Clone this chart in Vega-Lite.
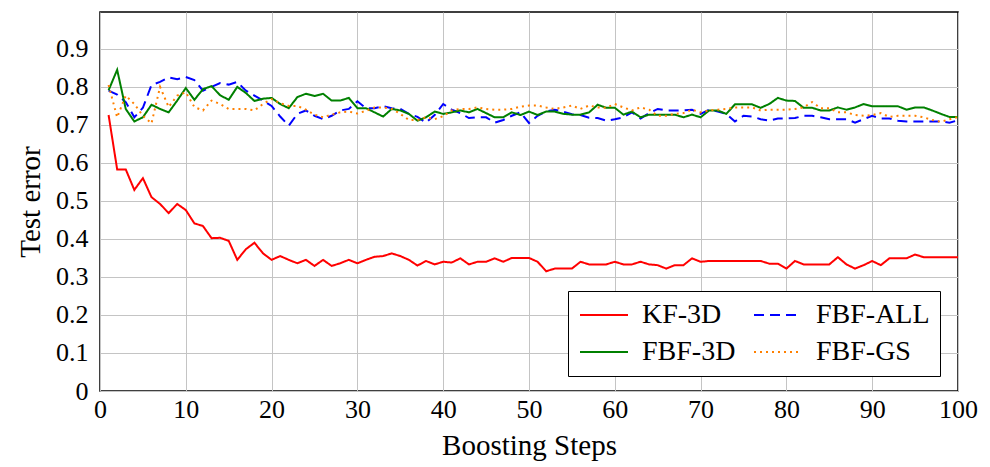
{
  "$schema": "https://vega.github.io/schema/vega-lite/v6.json",
  "autosize": {"type": "none"},
  "width": 858,
  "height": 379,
  "padding": {"left": 100, "top": 12, "right": 32, "bottom": 76},
  "background": "white",
  "config": {
    "font": "Liberation Serif",
    "style": {
      "guide-label": {"font": "Liberation Serif"},
      "guide-title": {"font": "Liberation Serif"}
    },
    "view": {"stroke": "black", "strokeWidth": 1.5},
    "axis": {
      "labelFont": "Liberation Serif",
      "titleFont": "Liberation Serif",
      "labelFontSize": 26,
      "titleFontSize": 29,
      "titleFontWeight": "normal",
      "labelColor": "black",
      "titleColor": "black",
      "gridColor": "#c4c4c4",
      "gridWidth": 1,
      "gridOpacity": 1,
      "domain": false,
      "ticks": false,
      "labelFlush": false
    },
    "legend": {
      "labelFont": "Liberation Serif",
      "labelFontSize": 28,
      "labelColor": "black"
    }
  },
  "data": {
    "values": [
      {"x":1,"KF-3D":0.726,"FBF-ALL":0.79,"FBF-3D":0.791,"FBF-GS":0.805},
      {"x":2,"KF-3D":0.583,"FBF-ALL":0.78,"FBF-3D":0.845,"FBF-GS":0.72},
      {"x":3,"KF-3D":0.583,"FBF-ALL":0.76,"FBF-3D":0.742,"FBF-GS":0.777},
      {"x":4,"KF-3D":0.529,"FBF-ALL":0.72,"FBF-3D":0.709,"FBF-GS":0.755},
      {"x":5,"KF-3D":0.56,"FBF-ALL":0.745,"FBF-3D":0.72,"FBF-GS":0.724},
      {"x":6,"KF-3D":0.51,"FBF-ALL":0.805,"FBF-3D":0.753,"FBF-GS":0.704},
      {"x":7,"KF-3D":0.492,"FBF-ALL":0.813,"FBF-3D":0.742,"FBF-GS":0.8},
      {"x":8,"KF-3D":0.468,"FBF-ALL":0.825,"FBF-3D":0.733,"FBF-GS":0.747},
      {"x":9,"KF-3D":0.492,"FBF-ALL":0.82,"FBF-3D":0.764,"FBF-GS":0.777},
      {"x":10,"KF-3D":0.476,"FBF-ALL":0.826,"FBF-3D":0.797,"FBF-GS":0.786},
      {"x":11,"KF-3D":0.441,"FBF-ALL":0.818,"FBF-3D":0.766,"FBF-GS":0.747},
      {"x":12,"KF-3D":0.434,"FBF-ALL":0.79,"FBF-3D":0.794,"FBF-GS":0.738},
      {"x":13,"KF-3D":0.402,"FBF-ALL":0.8,"FBF-3D":0.802,"FBF-GS":0.764},
      {"x":14,"KF-3D":0.403,"FBF-ALL":0.81,"FBF-3D":0.778,"FBF-GS":0.755},
      {"x":15,"KF-3D":0.395,"FBF-ALL":0.806,"FBF-3D":0.766,"FBF-GS":0.742},
      {"x":16,"KF-3D":0.345,"FBF-ALL":0.813,"FBF-3D":0.8,"FBF-GS":0.742},
      {"x":17,"KF-3D":0.373,"FBF-ALL":0.79,"FBF-3D":0.784,"FBF-GS":0.742},
      {"x":18,"KF-3D":0.39,"FBF-ALL":0.777,"FBF-3D":0.763,"FBF-GS":0.738},
      {"x":19,"KF-3D":0.362,"FBF-ALL":0.764,"FBF-3D":0.769,"FBF-GS":0.755},
      {"x":20,"KF-3D":0.345,"FBF-ALL":0.75,"FBF-3D":0.771,"FBF-GS":0.768},
      {"x":21,"KF-3D":0.355,"FBF-ALL":0.722,"FBF-3D":0.755,"FBF-GS":0.757},
      {"x":22,"KF-3D":0.345,"FBF-ALL":0.698,"FBF-3D":0.744,"FBF-GS":0.75},
      {"x":23,"KF-3D":0.336,"FBF-ALL":0.729,"FBF-3D":0.773,"FBF-GS":0.75},
      {"x":24,"KF-3D":0.345,"FBF-ALL":0.738,"FBF-3D":0.782,"FBF-GS":0.74},
      {"x":25,"KF-3D":0.329,"FBF-ALL":0.724,"FBF-3D":0.776,"FBF-GS":0.727},
      {"x":26,"KF-3D":0.345,"FBF-ALL":0.715,"FBF-3D":0.782,"FBF-GS":0.72},
      {"x":27,"KF-3D":0.329,"FBF-ALL":0.724,"FBF-3D":0.764,"FBF-GS":0.727},
      {"x":28,"KF-3D":0.336,"FBF-ALL":0.738,"FBF-3D":0.764,"FBF-GS":0.733},
      {"x":29,"KF-3D":0.345,"FBF-ALL":0.742,"FBF-3D":0.771,"FBF-GS":0.735},
      {"x":30,"KF-3D":0.336,"FBF-ALL":0.762,"FBF-3D":0.744,"FBF-GS":0.73},
      {"x":31,"KF-3D":0.345,"FBF-ALL":0.744,"FBF-3D":0.744,"FBF-GS":0.737},
      {"x":32,"KF-3D":0.353,"FBF-ALL":0.744,"FBF-3D":0.733,"FBF-GS":0.746},
      {"x":33,"KF-3D":0.355,"FBF-ALL":0.749,"FBF-3D":0.722,"FBF-GS":0.746},
      {"x":34,"KF-3D":0.362,"FBF-ALL":0.744,"FBF-3D":0.742,"FBF-GS":0.742},
      {"x":35,"KF-3D":0.355,"FBF-ALL":0.742,"FBF-3D":0.738,"FBF-GS":0.729},
      {"x":36,"KF-3D":0.345,"FBF-ALL":0.729,"FBF-3D":0.729,"FBF-GS":0.713},
      {"x":37,"KF-3D":0.33,"FBF-ALL":0.721,"FBF-3D":0.711,"FBF-GS":0.713},
      {"x":38,"KF-3D":0.342,"FBF-ALL":0.706,"FBF-3D":0.72,"FBF-GS":0.72},
      {"x":39,"KF-3D":0.333,"FBF-ALL":0.726,"FBF-3D":0.735,"FBF-GS":0.715},
      {"x":40,"KF-3D":0.34,"FBF-ALL":0.755,"FBF-3D":0.729,"FBF-GS":0.723},
      {"x":41,"KF-3D":0.338,"FBF-ALL":0.74,"FBF-3D":0.733,"FBF-GS":0.738},
      {"x":42,"KF-3D":0.349,"FBF-ALL":0.731,"FBF-3D":0.738,"FBF-GS":0.742},
      {"x":43,"KF-3D":0.333,"FBF-ALL":0.718,"FBF-3D":0.733,"FBF-GS":0.742},
      {"x":44,"KF-3D":0.34,"FBF-ALL":0.72,"FBF-3D":0.742,"FBF-GS":0.746},
      {"x":45,"KF-3D":0.34,"FBF-ALL":0.72,"FBF-3D":0.731,"FBF-GS":0.742},
      {"x":46,"KF-3D":0.349,"FBF-ALL":0.706,"FBF-3D":0.72,"FBF-GS":0.74},
      {"x":47,"KF-3D":0.34,"FBF-ALL":0.713,"FBF-3D":0.72,"FBF-GS":0.74},
      {"x":48,"KF-3D":0.35,"FBF-ALL":0.724,"FBF-3D":0.733,"FBF-GS":0.742},
      {"x":49,"KF-3D":0.35,"FBF-ALL":0.733,"FBF-3D":0.726,"FBF-GS":0.748},
      {"x":50,"KF-3D":0.35,"FBF-ALL":0.705,"FBF-3D":0.735,"FBF-GS":0.751},
      {"x":51,"KF-3D":0.34,"FBF-ALL":0.724,"FBF-3D":0.726,"FBF-GS":0.751},
      {"x":52,"KF-3D":0.315,"FBF-ALL":0.735,"FBF-3D":0.735,"FBF-GS":0.746},
      {"x":53,"KF-3D":0.322,"FBF-ALL":0.74,"FBF-3D":0.735,"FBF-GS":0.742},
      {"x":54,"KF-3D":0.322,"FBF-ALL":0.735,"FBF-3D":0.729,"FBF-GS":0.746},
      {"x":55,"KF-3D":0.322,"FBF-ALL":0.728,"FBF-3D":0.727,"FBF-GS":0.751},
      {"x":56,"KF-3D":0.34,"FBF-ALL":0.726,"FBF-3D":0.727,"FBF-GS":0.742},
      {"x":57,"KF-3D":0.333,"FBF-ALL":0.719,"FBF-3D":0.733,"FBF-GS":0.751},
      {"x":58,"KF-3D":0.333,"FBF-ALL":0.718,"FBF-3D":0.753,"FBF-GS":0.746},
      {"x":59,"KF-3D":0.333,"FBF-ALL":0.711,"FBF-3D":0.745,"FBF-GS":0.745},
      {"x":60,"KF-3D":0.34,"FBF-ALL":0.715,"FBF-3D":0.745,"FBF-GS":0.755},
      {"x":61,"KF-3D":0.333,"FBF-ALL":0.72,"FBF-3D":0.727,"FBF-GS":0.746},
      {"x":62,"KF-3D":0.333,"FBF-ALL":0.733,"FBF-3D":0.735,"FBF-GS":0.738},
      {"x":63,"KF-3D":0.34,"FBF-ALL":0.717,"FBF-3D":0.72,"FBF-GS":0.746},
      {"x":64,"KF-3D":0.333,"FBF-ALL":0.731,"FBF-3D":0.727,"FBF-GS":0.74},
      {"x":65,"KF-3D":0.331,"FBF-ALL":0.742,"FBF-3D":0.727,"FBF-GS":0.724},
      {"x":66,"KF-3D":0.322,"FBF-ALL":0.738,"FBF-3D":0.727,"FBF-GS":0.724},
      {"x":67,"KF-3D":0.331,"FBF-ALL":0.738,"FBF-3D":0.727,"FBF-GS":0.729},
      {"x":68,"KF-3D":0.331,"FBF-ALL":0.738,"FBF-3D":0.72,"FBF-GS":0.731},
      {"x":69,"KF-3D":0.349,"FBF-ALL":0.74,"FBF-3D":0.727,"FBF-GS":0.74},
      {"x":70,"KF-3D":0.34,"FBF-ALL":0.729,"FBF-3D":0.72,"FBF-GS":0.733},
      {"x":71,"KF-3D":0.342,"FBF-ALL":0.74,"FBF-3D":0.738,"FBF-GS":0.738},
      {"x":72,"KF-3D":0.342,"FBF-ALL":0.735,"FBF-3D":0.738,"FBF-GS":0.74},
      {"x":73,"KF-3D":0.342,"FBF-ALL":0.729,"FBF-3D":0.729,"FBF-GS":0.742},
      {"x":74,"KF-3D":0.342,"FBF-ALL":0.709,"FBF-3D":0.754,"FBF-GS":0.746},
      {"x":75,"KF-3D":0.342,"FBF-ALL":0.724,"FBF-3D":0.754,"FBF-GS":0.746},
      {"x":76,"KF-3D":0.342,"FBF-ALL":0.722,"FBF-3D":0.754,"FBF-GS":0.746},
      {"x":77,"KF-3D":0.342,"FBF-ALL":0.715,"FBF-3D":0.745,"FBF-GS":0.738},
      {"x":78,"KF-3D":0.335,"FBF-ALL":0.711,"FBF-3D":0.755,"FBF-GS":0.74},
      {"x":79,"KF-3D":0.335,"FBF-ALL":0.717,"FBF-3D":0.771,"FBF-GS":0.74},
      {"x":80,"KF-3D":0.322,"FBF-ALL":0.717,"FBF-3D":0.764,"FBF-GS":0.74},
      {"x":81,"KF-3D":0.342,"FBF-ALL":0.718,"FBF-3D":0.763,"FBF-GS":0.742},
      {"x":82,"KF-3D":0.333,"FBF-ALL":0.724,"FBF-3D":0.745,"FBF-GS":0.746},
      {"x":83,"KF-3D":0.333,"FBF-ALL":0.724,"FBF-3D":0.745,"FBF-GS":0.76},
      {"x":84,"KF-3D":0.333,"FBF-ALL":0.72,"FBF-3D":0.738,"FBF-GS":0.744},
      {"x":85,"KF-3D":0.333,"FBF-ALL":0.715,"FBF-3D":0.738,"FBF-GS":0.744},
      {"x":86,"KF-3D":0.352,"FBF-ALL":0.715,"FBF-3D":0.746,"FBF-GS":0.733},
      {"x":87,"KF-3D":0.333,"FBF-ALL":0.715,"FBF-3D":0.74,"FBF-GS":0.733},
      {"x":88,"KF-3D":0.322,"FBF-ALL":0.706,"FBF-3D":0.746,"FBF-GS":0.726},
      {"x":89,"KF-3D":0.331,"FBF-ALL":0.715,"FBF-3D":0.755,"FBF-GS":0.724},
      {"x":90,"KF-3D":0.342,"FBF-ALL":0.724,"FBF-3D":0.749,"FBF-GS":0.726},
      {"x":91,"KF-3D":0.331,"FBF-ALL":0.717,"FBF-3D":0.749,"FBF-GS":0.731},
      {"x":92,"KF-3D":0.349,"FBF-ALL":0.717,"FBF-3D":0.749,"FBF-GS":0.721},
      {"x":93,"KF-3D":0.349,"FBF-ALL":0.711,"FBF-3D":0.749,"FBF-GS":0.724},
      {"x":94,"KF-3D":0.349,"FBF-ALL":0.709,"FBF-3D":0.74,"FBF-GS":0.724},
      {"x":95,"KF-3D":0.359,"FBF-ALL":0.709,"FBF-3D":0.746,"FBF-GS":0.724},
      {"x":96,"KF-3D":0.352,"FBF-ALL":0.709,"FBF-3D":0.746,"FBF-GS":0.72},
      {"x":97,"KF-3D":0.352,"FBF-ALL":0.709,"FBF-3D":0.738,"FBF-GS":0.713},
      {"x":98,"KF-3D":0.352,"FBF-ALL":0.709,"FBF-3D":0.729,"FBF-GS":0.708},
      {"x":99,"KF-3D":0.352,"FBF-ALL":0.706,"FBF-3D":0.721,"FBF-GS":0.715},
      {"x":100,"KF-3D":0.352,"FBF-ALL":0.712,"FBF-3D":0.721,"FBF-GS":0.721}
    ]
  },
  "transform": [
    {"fold": ["KF-3D", "FBF-ALL", "FBF-3D", "FBF-GS"], "as": ["series", "value"]}
  ],
  "mark": {"type": "line", "strokeWidth": 2, "clip": true},
  "encoding": {
    "x": {
      "field": "x",
      "type": "quantitative",
      "scale": {"domain": [0, 100], "nice": false},
      "axis": {"values": [0,10,20,30,40,50,60,70,80,90,100], "title": "Boosting Steps", "labelFont": "Liberation Serif", "labelFlush": false, "labelPadding": 5, "titlePadding": 9}
    },
    "y": {
      "field": "value",
      "type": "quantitative",
      "scale": {"domain": [0, 0.997], "nice": false},
      "axis": {"values": [0,0.1,0.2,0.3,0.4,0.5,0.6,0.7,0.8,0.9], "format": ".1~f", "title": "Test error", "labelFont": "Liberation Serif", "labelPadding": 12, "titlePadding": 10}
    },
    "color": {
      "field": "series",
      "type": "nominal",
      "sort": ["KF-3D", "FBF-ALL", "FBF-3D", "FBF-GS"],
      "scale": {"domain": ["KF-3D", "FBF-ALL", "FBF-3D", "FBF-GS"], "range": ["#ff0000", "#0000ff", "#008000", "#ff8000"]},
      "legend": {
        "title": null,
        "orient": "none",
        "legendX": 468,
        "legendY": 279,
        "columns": 2,
        "direction": "horizontal",
        "symbolType": "M-1,0L3,0",
        "symbolSize": 576,
        "symbolStrokeWidth": 2,
        "strokeColor": "black",
        "fillColor": "white",
        "padding": 10,
        "columnPadding": 14,
        "rowPadding": 9,
        "labelFont": "Liberation Serif",
        "labelLimit": 300,
        "labelOffset": 36
      }
    },
    "strokeDash": {
      "field": "series",
      "type": "nominal",
      "sort": ["KF-3D", "FBF-ALL", "FBF-3D", "FBF-GS"],
      "scale": {"domain": ["KF-3D", "FBF-ALL", "FBF-3D", "FBF-GS"], "range": [[1,0], [10,6], [1,0], [2,4]]},
      "legend": null
    },
    "order": {"field": "x", "type": "quantitative"}
  }
}
